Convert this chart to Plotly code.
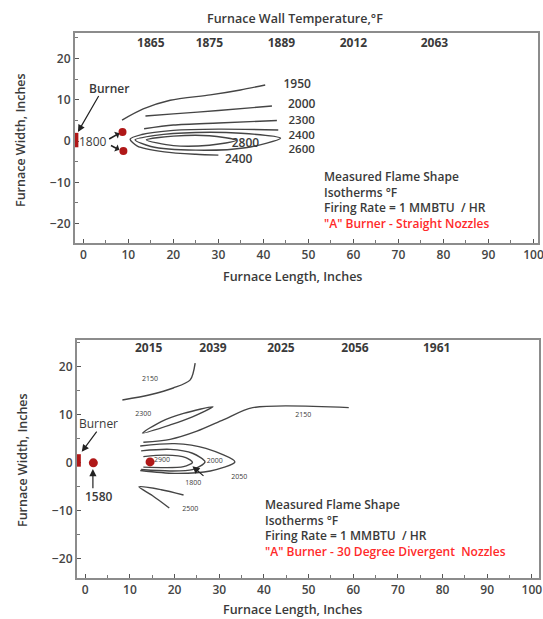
import plotly.graph_objects as go

# ---------------- data ----------------
x_tick_vals = [0, 10, 20, 30, 40, 50, 60, 70, 80, 90, 100]
y_tick_vals = [-20, -10, 0, 10, 20]

# top panel: straight nozzles
top_wall_x = [15, 28, 44, 60, 78]
top_wall_temps = ["1865", "1875", "1889", "2012", "2063"]

top_1950_x = [8.6, 13.3, 19.3, 28.2, 34.9, 40.4]
top_1950_y = [5.1, 7.8, 9.9, 11.2, 12.4, 13.6]
top_2000_x = [13.8, 20, 30, 41.9]
top_2000_y = [6.1, 6.6, 7.4, 8.5]
top_2300_x = [13.5, 20, 30, 43]
top_2300_y = [3.0, 3.9, 4.4, 5.0]
top_2400_x = [43.3, 30, 20, 13, 10.4, 12, 18, 25, 30]
top_2400_y = [2.7, 2.9, 2.6, 1.6, 0.5, -1.2, -2.6, -3.2, -3.4]
top_2600_x = [43.8, 35, 25, 16, 11.5, 15, 25, 36, 43.8]
top_2600_y = [0.7, 1.9, 2.1, 1.4, 0.3, -1.3, -2.2, -1.6, 0.7]
top_2800_x = [14, 20, 28, 34, 28, 20, 14]
top_2800_y = [0.3, 1.2, 1.3, 0.2, -1.0, -1.1, 0.3]

top_label_text = ["1950", "2000", "2300", "2400", "2600", "2800", "2400"]
top_label_x = [47.5, 48.5, 48.5, 48.5, 48.5, 36, 34.5]
top_label_y = [13.6, 8.7, 4.8, 1.3, -2.3, -0.7, -4.5]
top_label_size = [12, 12, 11.5, 11.5, 11.5, 12, 12]

top_nozzle_x = [8.7, 8.9]
top_nozzle_y = [2.2, -2.4]

# bottom panel: 30 degree divergent nozzles
bot_wall_x = [14.2, 28.6, 43.8, 60.4, 78.7]
bot_wall_temps = ["2015", "2039", "2025", "2056", "1961"]

bot_2150a_x = [8.3, 14.5, 19.7, 23.5, 24.6]
bot_2150a_y = [13.1, 14.2, 15.6, 17.3, 20.8]
bot_2300_x = [12.8, 17, 22, 28.6, 24, 19, 12.8]
bot_2300_y = [6.2, 8.6, 10.3, 11.7, 9.6, 7.9, 6.2]
bot_2150b_x = [13, 19, 25, 31, 37.5, 59]
bot_2150b_y = [4.3, 4.9, 6.6, 9.0, 11.5, 11.5]
bot_2050_x = [12.3, 20, 27, 33.5, 28, 20, 12.3]
bot_2050_y = [3.5, 4.0, 3.0, 0.2, -1.7, -2.2, -1.6]
bot_2000_x = [12.5, 19, 24, 26.8, 24, 19, 12.5]
bot_2000_y = [2.5, 2.8, 2.0, 0.2, -1.4, -1.7, -1.4]
bot_2900_x = [13, 18, 22.5, 24, 22, 13]
bot_2900_y = [1.3, 1.6, 1.1, 0.1, -0.8, -0.9]
bot_2500_x = [22, 17, 12, 15, 18.8]
bot_2500_y = [-6.7, -5.6, -5.0, -6.8, -9.4]

bot_label_text = ["2150", "2300", "2150", "2900", "2000", "2050", "1800", "2500"]
bot_label_x = [14.5, 13, 48.8, 17.2, 29, 34.5, 24.2, 23.5]
bot_label_y = [17.5, 10.2, 10.0, 0.5, 0.3, -2.9, -4.2, -9.6]

bot_nozzle_x = [14.5, 1.8]
bot_nozzle_y = [0.2, 0.0]

notes_top = ["Measured Flame Shape", "Isotherms\u00a0\u00b0F", "Firing Rate = 1 MMBTU  / HR"]
notes_top_red = "\"A\" Burner - Straight Nozzles"
notes_bot = ["Measured Flame Shape", "Isotherms\u00a0\u00b0F", "Firing Rate = 1 MMBTU  / HR"]
notes_bot_red = "\"A\" Burner - 30 Degree Divergent  Nozzles"

# ---------------- style ----------------
FONT = "Open Sans"
TXT = "#3a3a3a"
LINE = "#454545"
DARKRED = "#b01818"
RED = "#ff2a2a"
W, H = 543, 619


def px(x):
    return x / W


def py(y):
    return 1 - y / H


fig = go.Figure()


def curve(xs, ys, xa, ya):
    fig.add_trace(go.Scatter(x=xs, y=ys, xaxis=xa, yaxis=ya, mode="lines",
                             line=dict(color=LINE, width=1.4, shape="spline", smoothing=0.8),
                             hoverinfo="skip", showlegend=False))


for xs, ys in [(top_1950_x, top_1950_y), (top_2000_x, top_2000_y), (top_2300_x, top_2300_y),
               (top_2400_x, top_2400_y), (top_2600_x, top_2600_y), (top_2800_x, top_2800_y)]:
    curve(xs, ys, "x", "y")
for xs, ys in [(bot_2150a_x, bot_2150a_y), (bot_2300_x, bot_2300_y), (bot_2150b_x, bot_2150b_y),
               (bot_2050_x, bot_2050_y), (bot_2000_x, bot_2000_y), (bot_2900_x, bot_2900_y),
               (bot_2500_x, bot_2500_y)]:
    curve(xs, ys, "x2", "y2")

fig.add_trace(go.Scatter(x=top_nozzle_x, y=top_nozzle_y, xaxis="x", yaxis="y", mode="markers",
                         marker=dict(color=DARKRED, size=8), hoverinfo="skip", showlegend=False))
fig.add_trace(go.Scatter(x=bot_nozzle_x, y=bot_nozzle_y, xaxis="x2", yaxis="y2", mode="markers",
                         marker=dict(color=DARKRED, size=9), hoverinfo="skip", showlegend=False))

fig.add_trace(go.Scatter(x=top_label_x, y=top_label_y, xaxis="x", yaxis="y", mode="text",
                         text=top_label_text,
                         textfont=dict(family=FONT, size=top_label_size, color=TXT, weight=600),
                         hoverinfo="skip", showlegend=False))
fig.add_trace(go.Scatter(x=bot_label_x, y=bot_label_y, xaxis="x2", yaxis="y2", mode="text",
                         text=bot_label_text, textfont=dict(family=FONT, size=7, color=TXT),
                         hoverinfo="skip", showlegend=False))

fig.add_trace(go.Scatter(x=top_wall_x, y=[23.6] * len(top_wall_x), xaxis="x", yaxis="y", mode="text",
                         text=top_wall_temps,
                         textfont=dict(family=FONT, size=12, color=TXT, weight=700),
                         hoverinfo="skip", showlegend=False))
fig.add_trace(go.Scatter(x=bot_wall_x, y=[23.8] * len(bot_wall_x), xaxis="x2", yaxis="y2", mode="text",
                         text=bot_wall_temps,
                         textfont=dict(family=FONT, size=12, color=TXT, weight=700),
                         hoverinfo="skip", showlegend=False))

shapes = [
    dict(type="rect", xref="x", yref="y", x0=-2.3, x1=-1.1, y0=-1.5, y1=2.0,
         fillcolor=DARKRED, line=dict(width=0)),
    dict(type="rect", xref="x2", yref="y2", x0=-2.6, x1=-1.0, y0=-0.8, y1=1.8,
         fillcolor=DARKRED, line=dict(width=0)),
]

annotations = []


def note(text, x, y, xref, yref, size=12, color=TXT, xanchor="center", weight=600, **kw):
    annotations.append(dict(text=text, x=x, y=y, xref=xref, yref=yref, showarrow=False,
                            font=dict(family=FONT, size=size, color=color, weight=weight),
                            xanchor=xanchor, yanchor="middle", **kw))


def arrow(x, y, ax, ay, xref, yref, head=2, size=1.2, width=1.2):
    annotations.append(dict(text="", x=x, y=y, ax=ax, ay=ay, xref=xref, yref=yref,
                            axref=xref, ayref=yref, showarrow=True, arrowhead=head,
                            arrowsize=size, arrowwidth=width, arrowcolor="#222"))


# titles
note("Furnace Wall Temperature,\u00b0F", px(295), py(19), "paper", "paper", size=12.5)
note("Furnace Length, Inches", px(292), py(277), "paper", "paper", size=12.5)
note("Furnace Length, Inches", px(292), py(609), "paper", "paper", size=12.5)
note("Furnace Width, Inches", px(20), py(140), "paper", "paper", size=12.5, textangle=-90)
note("Furnace Width, Inches", px(23), py(460), "paper", "paper", size=12.5, textangle=-90)

# top panel callouts
note("Burner", 5.6, 12.8, "x", "y", size=12)
arrow(-1.2, 2.2, 3.6, 11.3, "x", "y")
note("1800", 2.2, -0.1, "x", "y", size=12, weight=400)
arrow(8.0, 1.9, 5.4, 0.3, "x", "y", head=1, size=0.8, width=1.6)
arrow(8.0, -2.1, 5.8, -0.9, "x", "y", head=1, size=0.8, width=1.6)

# bottom panel callouts
note("Burner", 3.0, 8.2, "x2", "y2", size=12, weight=400)
arrow(-0.8, 2.3, 2.8, 6.8, "x2", "y2")
note("1580", 3.0, -7.1, "x2", "y2", size=12)
arrow(1.7, -1.3, 1.7, -5.6, "x2", "y2")
arrow(24.0, -0.7, 26.8, -3.0, "x2", "y2")

# note blocks (one multi-line annotation each)
top_block = "<br>".join(notes_top) + "<br><span style='color:%s'>%s</span>" % (RED, notes_top_red)
bot_block = "<br>".join(notes_bot) + "<br><span style='color:%s'>%s</span>" % (RED, notes_bot_red)
note(top_block, 53, -14.2, "x", "y", size=12, xanchor="left", align="left")
note(bot_block, 39.8, -13.5, "x2", "y2", size=12, xanchor="left", align="left")

axis_common = dict(
    showgrid=False, zeroline=False, showline=True, linecolor="#8c8c8c", linewidth=2, mirror=True,
    ticks="inside", ticklen=4, tickwidth=1, tickcolor="#555",
    tickfont=dict(family=FONT, size=12, color="#444", weight=600),
    minor=dict(ticks="inside", ticklen=3, tickcolor="#777"),
    automargin=False, fixedrange=True, ticklabeloverflow="allow",
)

fig.update_layout(
    width=W, height=H, margin=dict(l=0, r=0, t=0, b=0),
    paper_bgcolor="white", plot_bgcolor="white", showlegend=False,
    xaxis=dict(domain=[px(75), px(538)], range=[-1.85, 101], anchor="y",
               tickvals=x_tick_vals, minor_dtick=5, **axis_common),
    yaxis=dict(domain=[py(243), py(33)], range=[-24.7, 26.2], anchor="x",
               tickvals=y_tick_vals, minor_dtick=5, **axis_common),
    xaxis2=dict(domain=[px(77), px(539)], range=[-1.86, 101.6], anchor="y2",
                tickvals=x_tick_vals, minor_dtick=5, **axis_common),
    yaxis2=dict(domain=[py(578), py(340)], range=[-24.0, 25.6], anchor="x2",
                tickvals=y_tick_vals, minor_dtick=5, **axis_common),
    shapes=shapes, annotations=annotations,
)

fig.write_html("out.html", config={"displayModeBar": False},
               post_script="document.body.style.margin='0';document.body.style.overflow='hidden';")
